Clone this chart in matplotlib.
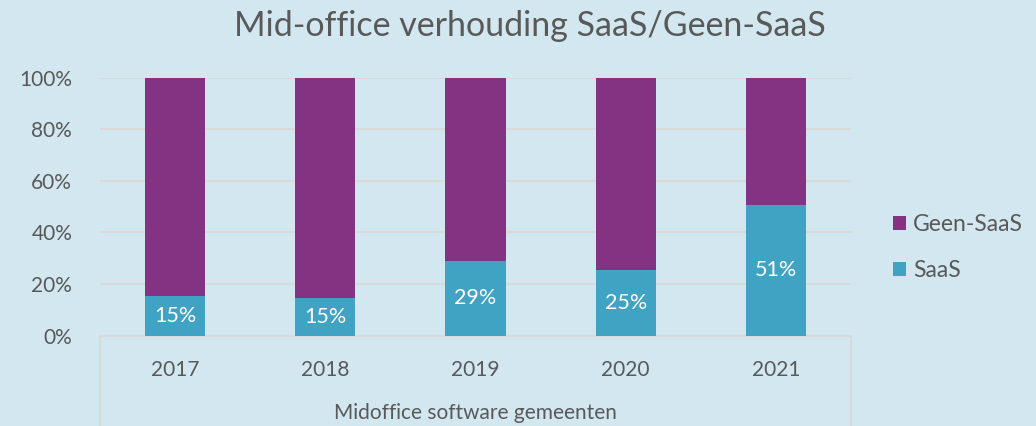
import matplotlib.pyplot as plt

years = ['2017', '2018', '2019', '2020', '2021']
saas = [15.4, 14.6, 29.0, 25.4, 50.7]
geen_saas = [100 - v for v in saas]
saas_labels = ['15%', '15%', '29%', '25%', '51%']

bg = '#D2E7EF'
purple = '#843382'
teal = '#41A3C3'
grey = '#595959'

plt.rcParams['font.family'] = ['Lato', 'DejaVu Sans']

fig = plt.figure(figsize=(10.36, 4.26), dpi=100, facecolor=bg)
ax = fig.add_axes([100 / 1036, 1 - 335.5 / 426, 751 / 1036, 258 / 426])
ax.set_facecolor(bg)

x = list(range(len(years)))
b1 = ax.bar(x, saas, width=0.4, color=teal, label='SaaS', zorder=3)
b2 = ax.bar(x, geen_saas, width=0.4, bottom=saas, color=purple, label='Geen-SaaS', zorder=3)

for i, v in enumerate(saas):
    ax.text(i, v / 2, saas_labels[i], ha='center', va='center', color='white', fontsize=15.5, zorder=4)

ax.set_xlim(-0.5, 4.5)
ax.set_ylim(0, 100)
ax.set_yticks([0, 20, 40, 60, 80, 100])
ax.set_yticklabels(['0%', '20%', '40%', '60%', '80%', '100%'])
ax.grid(axis='y', color='#D9D9D9', linewidth=1.5, zorder=0)
ax.set_xticks(x)
ax.set_xticklabels(years)
ax.tick_params(axis='both', length=0, labelsize=15, colors=grey)
ax.tick_params(axis='x', pad=18)
ax.tick_params(axis='y', pad=20)
for s in ['top', 'right', 'left']:
    ax.spines[s].set_visible(False)
ax.spines['bottom'].set_color('#D9D9D9')
ax.spines['bottom'].set_linewidth(1.5)

# category axis box
for xv in [0, 1]:
    ax.plot([xv, xv], [0, -0.4], transform=ax.transAxes, color='#D9D9D9', lw=1.5, clip_on=False)

ax.text(0.5, -0.30, 'Midoffice software gemeenten', transform=ax.transAxes,
        ha='center', va='center', fontsize=15, color=grey)

fig.text(530 / 1036, 1 - 26 / 426, 'Mid-office verhouding SaaS/Geen-SaaS',
         ha='center', va='center', fontsize=24.5, color=grey)

leg = ax.legend(handles=[b2, b1], loc='center left', bbox_to_anchor=(1.029, 0.34),
                frameon=False, fontsize=16.5, handlelength=0.57, handleheight=0.57,
                handletextpad=0.3, labelspacing=1.1)
for t in leg.get_texts():
    t.set_color(grey)

fig.savefig('out.png', dpi=100, facecolor=bg)
